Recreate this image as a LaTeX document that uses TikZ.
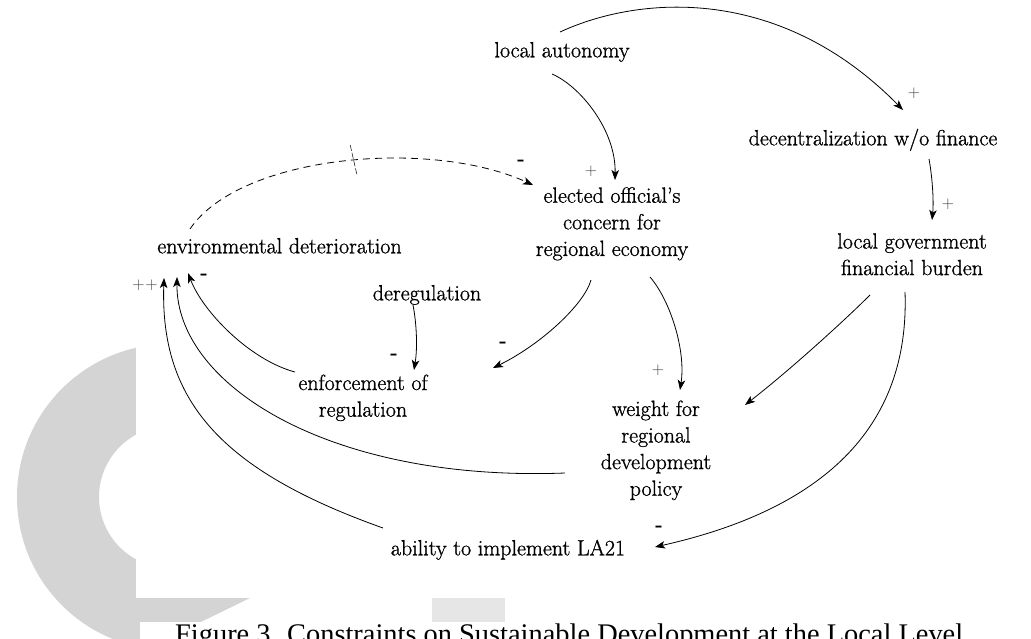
\documentclass[tikz,border=0pt]{standalone}
\usepackage{fontspec}
\newfontfamily\capfont{Liberation Serif}
\newfontfamily\dfont{Latin Modern Roman}[Ligatures=TeX, BoldFont={Latin Modern Roman}, BoldFeatures={FakeBold=1}]
\usetikzlibrary{arrows.meta,calc}
\definecolor{cgray}{HTML}{D4D4D4}
\definecolor{lgray}{HTML}{E6E6E6}
\definecolor{sgray}{HTML}{404040}
\begin{document}
\begin{tikzpicture}[x=1pt,y=-1pt,
  lbl/.style={font=\dfont\bfseries\fontsize{22}{26.6}\selectfont, align=center, inner sep=0pt},
  conn/.style={line width=0.8pt, -{Stealth[length=10pt,width=7.5pt,inset=2.5pt]}},
  dconn/.style={conn, dash pattern=on 7pt off 5pt},
  plus/.style={font=\fontsize{17}{19}\selectfont, text=sgray, inner sep=0pt},
  minus/.style={font=\fontsize{20}{24}\selectfont\bfseries, inner sep=0pt},
  capt/.style={font=\capfont\fontsize{28.4}{32}\selectfont, inner sep=0pt}]
\useasboundingbox (0,0) rectangle (1031,638);
\clip (0,0) rectangle (1031,638);
% background watermark
\fill[white] (0,0) rectangle (1031,638);
\begin{scope}
  \clip (0,0) -- (600,0) -- (602,426) -- (121,661) -- (0,661) -- cycle;
  \fill[cgray, even odd rule] (170,497) circle[radius=153pt] (170,497) circle[radius=71pt];
\end{scope}
\fill[lgray] (432,598) rectangle (505,622);
\fill[white] (136,0) rectangle (1031,598);
\fill[white] (140,622) rectangle (1031,640);
\node[capt, anchor=base west] (cap) at (175,643.5) {Figure 3. Constraints on Sustainable Development at the Local Level};

% variables
\node[lbl] (la) at (562,52) {local autonomy\strut};
\node[lbl] (dec) at (873,140) {decentralization w/o finance\strut};
\node[lbl] (eoc) at (612,224) {elected official’s\strut\\concern for\strut\\regional economy\strut};
\node[lbl] (lgb) at (912,256.5) {local government\strut\\financial burden\strut};
\node[lbl] (env) at (279.5,248) {environmental deterioration\strut};
\node[lbl] (dereg) at (427,295) {deregulation\strut};
\node[lbl] (enf) at (363,398) {enforcement of\strut\\regulation\strut};
\node[lbl] (wrd) at (656,450.5) {weight for\strut\\regional\strut\\development\strut\\policy\strut};
\node[lbl] (abl) at (508,550) {ability to implement LA21\strut};

% connectors
\draw[conn] ($(la)+(-2,-20)$) .. controls (640,-5) and (780,-15) .. ($(dec)+(30,-30)$);
\draw[conn] ($(la)+(-10,22)$) .. controls (580,86) and (616,130) .. ($(eoc)+(3,-44)$);
\draw[dconn] ($(env)+(-89.5,-19)$) .. controls (240,155) and (430,138) .. coordinate[pos=0.53] (tk) ($(eoc)+(-79,-39)$);
\draw[line width=0.5pt, dash pattern=on 6pt off 2pt] ([shift={(-3.5,-15.5)}]tk) -- ([shift={(3.5,15.5)}]tk);
\draw[conn] ($(dec)+(56,19)$) .. controls (932,175) and (934,200) .. ($(lgb)+(20,-36.5)$);
\draw[conn] ($(eoc)+(-21,56)$) .. controls (584,305) and (540,345) .. ($(enf)+(130,-30)$);
\draw[conn] ($(eoc)+(38,53)$) .. controls (670,300) and (686,350) .. ($(wrd)+(24,-60.5)$);
\draw[conn] ($(dereg)+(-14,10)$) .. controls (416,320) and (418,345) .. ($(enf)+(51,-28)$);
\draw[conn] ($(lgb)+(-42,38.5)$) .. controls (845,320) and (790,370) .. ($(wrd)+(89,-45.5)$);
\draw[conn] ($(lgb)+(-7,35.5)$) .. controls (910,430) and (820,510) .. ($(abl)+(147,-3)$);
\draw[conn] ($(enf)+(-68,-26)$) .. controls (250,360) and (203,312) .. ($(env)+(-91.5,25)$);
\draw[conn] ($(wrd)+(-91,22.5)$) .. controls (330,482) and (176,385) .. ($(env)+(-102.5,29)$);
\draw[conn] ($(abl)+(-125,-22)$) .. controls (220,470) and (160,400) .. ($(env)+(-115.5,30)$);

% polarity signs
\node[plus] (s1) at (914,93) {+};
\node[plus] (s2) at (591,171) {+};
\node[minus] (s3) at (521,163) {-};
\node[plus] (s4) at (948,204) {+};
\node[minus] (s5) at (503,345) {-};
\node[plus] (s6) at (658,370) {+};
\node[minus] (s7) at (394,357) {-};
\node[minus] (s9) at (659,529) {-};
\node[minus] (s10) at (204,277) {-};
\node[plus] (s11) at (145,285) {+\kern1pt+};
\end{tikzpicture}
\end{document}
